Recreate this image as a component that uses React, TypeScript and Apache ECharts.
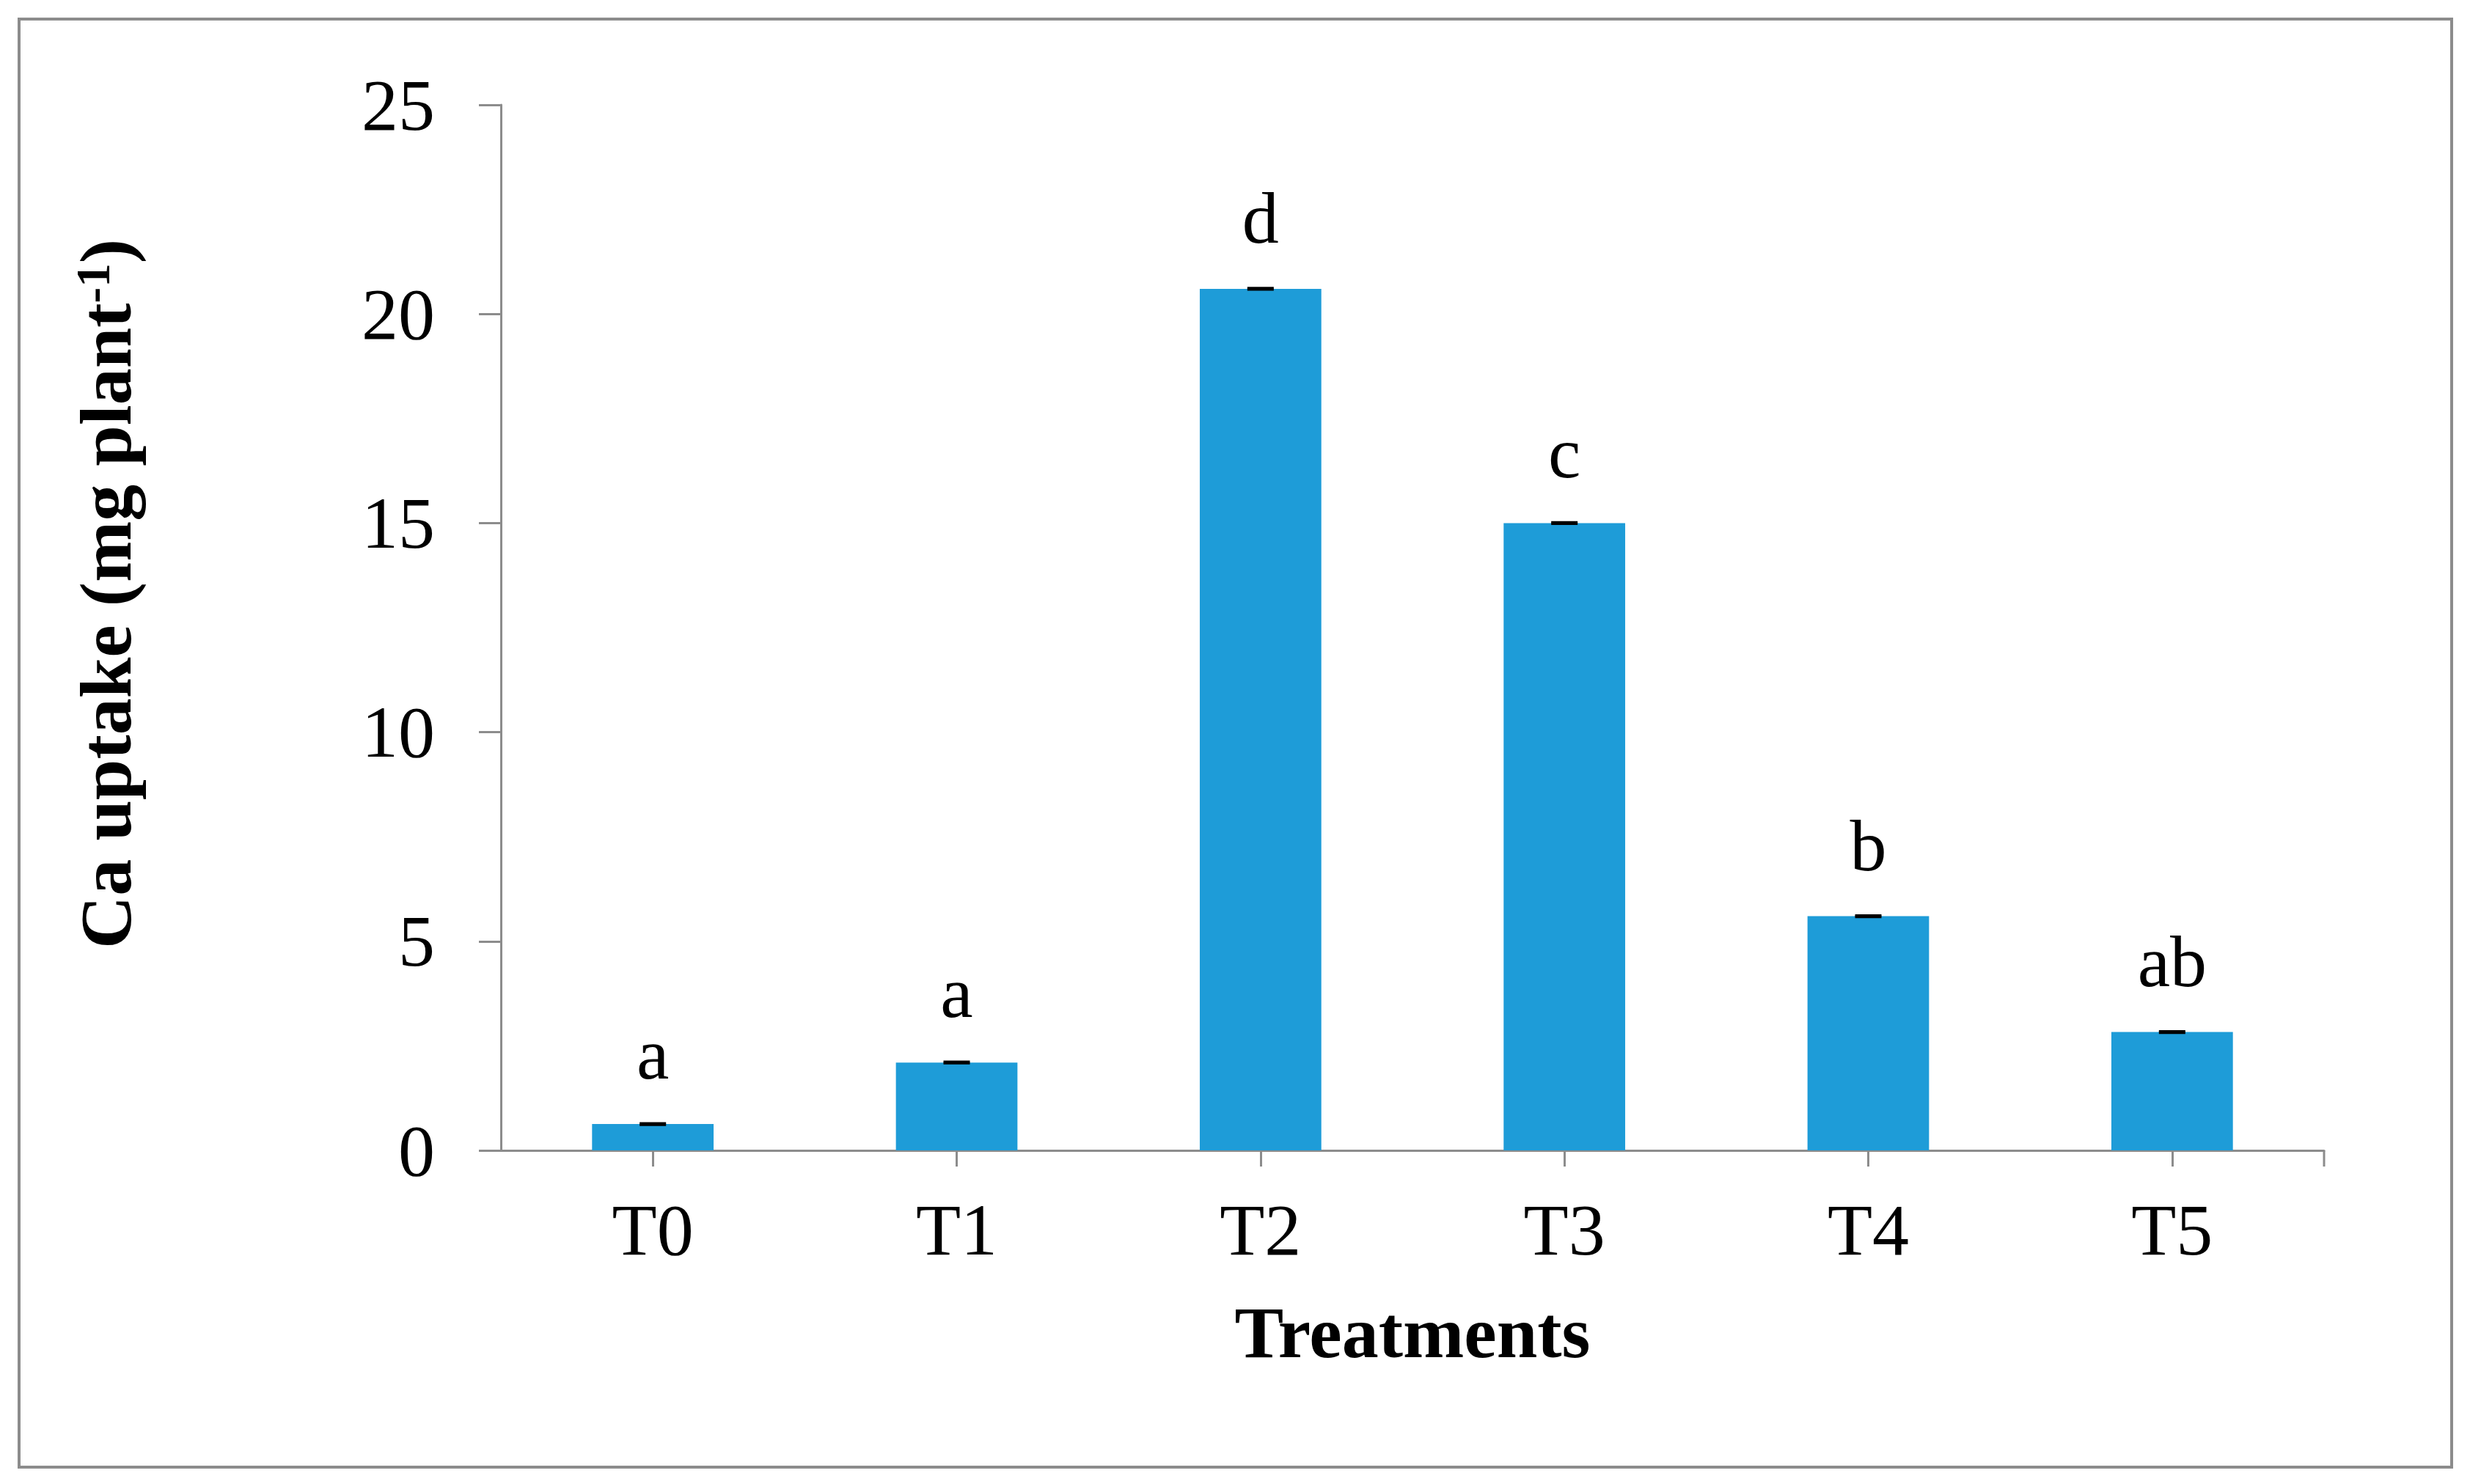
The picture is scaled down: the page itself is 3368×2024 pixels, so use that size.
import React, { useEffect, useRef } from "react";
import * as echarts from "echarts";

const categories = ["T0", "T1", "T2", "T3", "T4", "T5"];
const caUptake = [0.63, 2.1, 20.6, 15.0, 5.6, 2.83];
const errors = [0.02, 0.02, 0.02, 0.02, 0.02, 0.02];
const letters = ["a", "a", "d", "c", "b", "ab"];
const yTicks = { min: 0, max: 25, interval: 5 };

const FONT = "'Liberation Serif', 'Times New Roman', serif";
const AXIS_GRAY = "#8c8c8c";
const BAR_BLUE = "#1e9cd8";

export default function App() {
  const ref = useRef<HTMLDivElement>(null);

  useEffect(() => {
    if (!ref.current) return;
    const chart = echarts.init(ref.current, null, { renderer: "svg" });

    const option: any = {
      animation: false,
      backgroundColor: "#ffffff",
      grid: { left: 683, right: 199, top: 143, bottom: 455, outerBoundsMode: "none" },
      xAxis: {
        type: "category",
        data: categories,
        axisLine: { show: true, lineStyle: { color: AXIS_GRAY, width: 3 } },
        axisTick: { show: true, alignWithLabel: true, length: 22, lineStyle: { color: AXIS_GRAY, width: 3 } },
        axisLabel: { color: "#000", fontFamily: FONT, fontSize: 100, margin: 58 },
        name: "Treatments",
        nameLocation: "middle",
        nameGap: 198,
        nameTextStyle: { color: "#000", fontFamily: FONT, fontSize: 100, fontWeight: "bold" },
        splitLine: { show: false },
      },
      yAxis: {
        type: "value",
        min: yTicks.min,
        max: yTicks.max,
        interval: yTicks.interval,
        axisLine: { show: true, lineStyle: { color: AXIS_GRAY, width: 3 } },
        axisTick: { show: true, length: 30, lineStyle: { color: AXIS_GRAY, width: 3 } },
        axisLabel: { color: "#000", fontFamily: FONT, fontSize: 100, margin: 90, padding: [0, 0, 16, 0] },
        splitLine: { show: false },
      },
      series: [
        {
          type: "bar",
          data: caUptake,
          barWidth: "40%",
          itemStyle: { color: BAR_BLUE },
          label: {
            show: true,
            position: "top",
            distance: 46,
            color: "#000",
            fontFamily: FONT,
            fontSize: 100,
            formatter: (p: any) => letters[p.dataIndex],
          },
          z: 2,
        },
        {
          type: "custom",
          data: categories.map((_, i) => [i, caUptake[i], errors[i]]),
          z: 3,
          renderItem: (params: any, api: any) => {
            const x = api.value(0);
            const v = api.value(1);
            const e = api.value(2);
            const top = api.coord([x, v + e]);
            const bot = api.coord([x, v - e]);
            const hw = 18;
            const st = { stroke: "#000", lineWidth: 3 };
            return {
              type: "group",
              children: [
                { type: "line", shape: { x1: top[0] - hw, y1: top[1], x2: top[0] + hw, y2: top[1] }, style: st },
                { type: "line", shape: { x1: top[0], y1: top[1], x2: bot[0], y2: bot[1] }, style: st },
                { type: "line", shape: { x1: bot[0] - hw, y1: bot[1], x2: bot[0] + hw, y2: bot[1] }, style: st },
              ],
            };
          },
        },
      ],
    };

    chart.setOption(option);

    const p5 = chart.convertToPixel({ xAxisIndex: 0 }, categories[5]) as number;
    const p4 = chart.convertToPixel({ xAxisIndex: 0 }, categories[4]) as number;
    const endX = p5 + (p5 - p4) / 2;
    const y0 = chart.convertToPixel({ yAxisIndex: 0 }, 0) as number;

    chart.setOption({
      graphic: [
        {
          id: "border",
          type: "rect",
          shape: { x: 26, y: 26, width: 3317, height: 1975 },
          style: { fill: "none", stroke: AXIS_GRAY, lineWidth: 4 },
          silent: true,
        },
        {
          id: "endTick",
          type: "line",
          shape: { x1: endX, y1: y0, x2: endX, y2: y0 + 22 },
          style: { stroke: AXIS_GRAY, lineWidth: 3 },
        },
        {
          id: "yTitle",
          type: "text",
          x: 144,
          y: 810,
          rotation: Math.PI / 2,
          style: {
            text: "{a|Ca uptake (mg plant}{b|-1}{a|)}",
            align: "center",
            verticalAlign: "middle",
            fill: "#000",
            rich: {
              a: { fontFamily: FONT, fontSize: 100, fontWeight: "bold", fill: "#000" },
              b: { fontFamily: FONT, fontSize: 65, fontWeight: "bold", fill: "#000", verticalAlign: "top" },
            },
          },
        },
      ],
    });

    return () => chart.dispose();
  }, []);

  return (
    <div
      ref={ref}
      style={{ position: "fixed", left: 0, top: 0, width: 3368, height: 2024, background: "#fff" }}
    />
  );
}
